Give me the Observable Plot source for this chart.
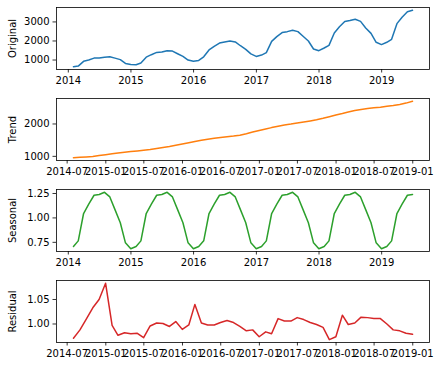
<!DOCTYPE html>
<html>
<head>
<meta charset="utf-8">
<script src="https://cdn.jsdelivr.net/npm/d3@7"></script>
<script src="https://cdn.jsdelivr.net/npm/@observablehq/plot@0.6"></script>
<style>
  html, body { margin: 0; padding: 0; background: #fff; }
  #chart { position: relative; width: 441px; height: 367px; background: #fff; }
  #chart > svg { position: absolute; left: 0; }
</style>
</head>
<body>
<div id="chart"></div>
<script>
// ---- Data ----
const originalStart = "2014-01";   // monthly, month-end dates
const originalValues = [
  650, 680, 930, 1000, 1100, 1100, 1150, 1170, 1100, 1020, 820, 770,
  750, 840, 1150, 1280, 1400, 1420, 1490, 1470, 1330, 1190, 1000, 930,
  980, 1170, 1530, 1720, 1890, 1950, 2000, 1950, 1750, 1560, 1320, 1190,
  1260, 1390, 1980, 2230, 2440, 2490, 2560, 2490, 2250, 2000, 1580, 1490,
  1630, 1770, 2420, 2750, 3020, 3070, 3140, 3030, 2680, 2400, 1930, 1810,
  1930, 2090, 2910, 3250, 3540, 3610
];
const seasonalValues = [
  0.707, 0.765, 1.045, 1.140, 1.232, 1.240, 1.262, 1.215, 1.085, 0.950, 0.745, 0.685,
  0.707, 0.765, 1.045, 1.140, 1.232, 1.240, 1.262, 1.215, 1.085, 0.950, 0.745, 0.685,
  0.707, 0.765, 1.045, 1.140, 1.232, 1.240, 1.262, 1.215, 1.085, 0.950, 0.745, 0.685,
  0.707, 0.765, 1.045, 1.140, 1.232, 1.240, 1.262, 1.215, 1.085, 0.950, 0.745, 0.685,
  0.707, 0.765, 1.045, 1.140, 1.232, 1.240, 1.262, 1.215, 1.085, 0.950, 0.745, 0.685,
  0.707, 0.765, 1.045, 1.140, 1.232, 1.240
];
const trendStart = "2014-07";
const trendValues = [
  959, 970, 982, 995, 1025, 1052,
  1077, 1101, 1127, 1147, 1168, 1189, 1214, 1244, 1273, 1303, 1340, 1380,
  1420, 1460, 1496, 1530, 1558, 1581, 1604, 1627, 1655, 1700, 1751, 1800,
  1845, 1888, 1930, 1970, 1998, 2030, 2062, 2095, 2130, 2175, 2225, 2280,
  2325, 2370, 2418, 2450, 2475, 2500, 2518, 2545, 2570, 2605, 2645, 2700
];
const residualValues = [
  0.971, 0.988, 1.010, 1.033, 1.050, 1.083,
  0.997, 0.977, 0.982, 0.980, 0.981, 0.972, 0.996, 1.002, 1.001, 0.995, 1.005, 0.989,
  0.998, 1.040, 1.002, 0.998, 0.998, 1.003, 1.007, 1.003, 0.995, 0.986, 0.988, 0.974,
  0.984, 0.980, 1.011, 1.006, 1.006, 1.013, 1.009, 1.003, 0.999, 0.993, 0.968, 0.974,
  1.018, 0.999, 1.002, 1.014, 1.013, 1.011, 1.011, 1.000, 0.988, 0.986, 0.981, 0.979
];
const yearTickLabels = ["2014", "2015", "2016", "2017", "2018", "2019"];
const halfYearTickLabels = ["2014-07", "2015-01", "2015-07", "2016-01", "2016-07",
  "2017-01", "2017-07", "2018-01", "2018-07", "2019-01"];
const originalYTicks = [1000, 2000, 3000];
const trendYTicks = [1000, 2000];
const seasonalYTicks = [0.75, 1.00, 1.25];
const residualYTicks = [1.00, 1.05];
const panelLabels = ["Original", "Trend", "Seasonal", "Residual"];
const colors = ["#1f77b4", "#ff7f0e", "#2ca02c", "#d62728"];

// ---- helpers ----
function monthEnds(start, n) {
  const first = new Date(start + "-01T00:00:00Z");
  return d3.range(n).map(i => d3.utcDay.offset(d3.utcMonth.offset(first, i + 1), -1));
}
function parseTick(s) {
  return new Date((s.length === 4 ? s + "-01-01" : s + "-01") + "T00:00:00Z");
}

const origDates = monthEnds(originalStart, originalValues.length);
const trendDates = monthEnds(trendStart, trendValues.length);

function panel({dates, values, color, label, xLabels, yTicks, yFmt, top}) {
  const data = dates.map((d, i) => ({date: d, value: values[i]}));
  const x0 = +dates[0], x1 = +dates[dates.length - 1];
  const xp = (x1 - x0) * 0.05;
  const [lo, hi] = d3.extent(values);
  const yp = (hi - lo) * 0.05;
  const tickDates = xLabels.map(parseTick);
  const labelOf = new Map(tickDates.map((d, i) => [+d, xLabels[i]]));
  const svg = Plot.plot({
    width: 441,
    height: 91,
    marginTop: 7,
    marginBottom: 22,
    marginLeft: 56,
    marginRight: 12,
    style: {fontFamily: "'DejaVu Sans', sans-serif", fontSize: "10px", color: "black", background: "white", overflow: "visible"},
    x: {type: "utc", domain: [new Date(x0 - xp), new Date(x1 + xp)]},
    y: {domain: [lo - yp, hi + yp]},
    marks: [
      Plot.lineY(data, {x: "date", y: "value", stroke: color, strokeWidth: 1.5}),
      Plot.frame({stroke: "black", strokeWidth: 0.8}),
      Plot.axisX({ticks: tickDates, tickFormat: d => labelOf.get(+d), tickSize: 3.5, tickPadding: 3.5,
        strokeWidth: 0.8, label: null, fontSize: 10}),
      Plot.axisY({ticks: yTicks, tickFormat: yFmt, tickSize: 3.5, tickPadding: 3.5,
        strokeWidth: 0.8, label: null, fontSize: 10}),
      Plot.text([label], {text: d => d, frameAnchor: "left", textAnchor: "middle", lineAnchor: "middle",
        rotate: -90, dx: -44, fontSize: 10, fill: "black"})
    ]
  });
  svg.style.top = top + "px";
  return svg;
}

const chart = document.getElementById("chart");
chart.append(panel({dates: origDates, values: originalValues, color: colors[0], label: panelLabels[0],
  xLabels: yearTickLabels, yTicks: originalYTicks, yFmt: d3.format("d"), top: 0}));
chart.append(panel({dates: trendDates, values: trendValues, color: colors[1], label: panelLabels[1],
  xLabels: halfYearTickLabels, yTicks: trendYTicks, yFmt: d3.format("d"), top: 91}));
chart.append(panel({dates: origDates, values: seasonalValues, color: colors[2], label: panelLabels[2],
  xLabels: yearTickLabels, yTicks: seasonalYTicks, yFmt: d3.format(".2f"), top: 182}));
chart.append(panel({dates: trendDates, values: residualValues, color: colors[3], label: panelLabels[3],
  xLabels: halfYearTickLabels, yTicks: residualYTicks, yFmt: d3.format(".2f"), top: 273}));
</script>
</body>
</html>
